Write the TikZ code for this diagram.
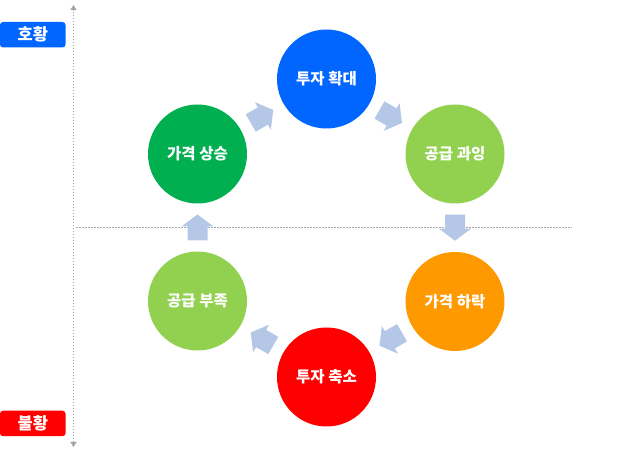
\documentclass[tikz,border=0pt]{standalone}
\usepackage{fontspec}
\setmainfont{Noto Sans CJK KR}
\usetikzlibrary{calc,arrows.meta}
\definecolor{boomblue}{HTML}{0066FF}
\definecolor{slumpred}{HTML}{FF0000}
\definecolor{risegreen}{HTML}{00B050}
\definecolor{supplygreen}{HTML}{92D050}
\definecolor{fallorange}{HTML}{FF9900}
\definecolor{flowblue}{HTML}{B4C7E7}
\definecolor{axisgray}{HTML}{A6A6A6}

\begin{document}
\begin{tikzpicture}[x=1pt,y=1pt]
\tikzstyle{phase}=[circle,minimum size=99pt,inner sep=0pt,text=white,font=\fontsize{15.5}{17}\selectfont\bfseries]
\tikzstyle{tag}=[rectangle,rounded corners=3pt,minimum width=65.5pt,minimum height=25.5pt,inner sep=0pt,text=white,font=\fontsize{16.5}{18}\selectfont\bfseries]
\tikzstyle{axis}=[axisgray,line width=1.5pt,dash pattern=on 1.5pt off 1.5pt]
\tikzset{flow/.pic={\fill[flowblue] (-13,-10) -- (1,-10) -- (1,-16) -- (13,0) -- (1,16) -- (1,10) -- (-13,10) -- cycle;}}

\useasboundingbox (0,0) rectangle (625,456);

% axes
\coordinate (top) at (73.5,451);
\coordinate (bot) at (73.5,9);
\coordinate (west) at (76,228.5);
\coordinate (east) at (572,228.5);
\draw[axis,{Triangle[width=6pt,length=5pt]}-{Triangle[width=6pt,length=5pt]}] (bot) -- (top);
\draw[axis] (west) -- (east);

\node[tag,fill=boomblue](boom) at (32.75,421.25) {호황};
\node[tag,fill=slumpred](slump) at (32.75,32.5) {불황};

% cycle
\node[phase,fill=boomblue](inv) at (326.5,377) {투자 확대};
\node[phase,fill=supplygreen](glut) at (455,302) {공급 과잉};
\node[phase,fill=fallorange](fall) at (455,154.5) {가격 하락};
\node[phase,fill=slumpred](cut) at (326.5,79) {투자 축소};
\node[phase,fill=supplygreen](short) at (197.5,155) {공급 부족};
\node[phase,fill=risegreen](rise) at (197.5,302) {가격 상승};

\pic[rotate=30] at ($(rise)!0.5!(inv)$) {flow};
\pic[rotate=-30] at ($(inv)!0.5!(glut)$) {flow};
\pic[rotate=-90] at ($(glut)!0.5!(fall)$) {flow};
\pic[rotate=210] at ($(fall)!0.5!(cut)$) {flow};
\pic[rotate=150] at ($(cut)!0.5!(short)$) {flow};
\pic[rotate=90] at ($(short)!0.5!(rise)$) {flow};
\end{tikzpicture}
\end{document}
